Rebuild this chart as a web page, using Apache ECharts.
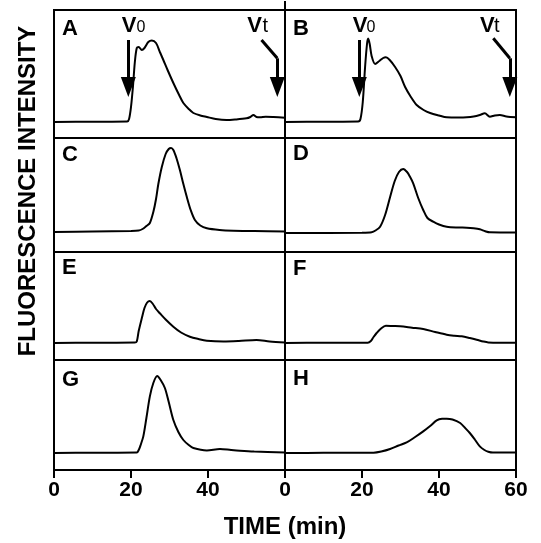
<!DOCTYPE html>
<html>
<head>
<meta charset="utf-8">
<script src="https://cdn.jsdelivr.net/npm/echarts@6/dist/echarts.min.js"></script>
<style>
html,body{margin:0;padding:0;background:#fff;}
#chart{width:541px;height:543px;}
</style>
</head>
<body>
<div id="chart"></div>
<script>
// ---- Data (time in min, fluorescence intensity in arbitrary units above baseline) ----
const panelLetters = ['A','B','C','D','E','F','G','H'];
const xTicks = [0, 20, 40, 60];

const tA = [0,10,19,19.5,20,20.5,21,21.5,22,22.8,23.5,24.5,25.4,26.5,27.5,28.4,29.5,31,32.5,33.6,35,36.2,38,39.7,42,44.8,47,50,51,51.8,52.6,53.5,55,57,60];
const iA = [0,0.3,0.5,3,15,35,60,74,75,72,74,80,81.5,79,70,62,52,39,27,19,13,9,6.5,5,3,2,2.5,3.7,5,7,5,4.7,5.3,5,4.3];

const tB = [0,10,19,19.6,20.2,20.8,21.3,21.6,22.0,22.5,23.4,24.5,25.5,26.2,27.2,28.6,30,31.2,32.7,34.2,36,37.7,40,42,45,47.2,49,50.6,51.9,53.2,54.5,55.8,57.5,60];
const iB = [0,0.3,0.5,3,20,55,78,83.5,78,66,58,61,64,64.7,62,55,46,35,25,17,12,9,6.5,4.7,4.5,4.7,5.5,7,8.7,5.3,6.5,7,5.5,4.7];

const tC = [0,10,20,22,23,24,24.9,25.8,26.5,27.1,28,29,29.8,30.4,31,31.8,32.7,33.6,34.5,35.5,36.6,38,39.7,43,46.6,52,60];
const iC = [0,0.5,1,1.5,3,6,9,20,33,48,65,78,83,84,82,74,62,48,35,22,12,6.5,3.7,2,1.3,1,0.5];

const tD = [0,20,22.5,23.5,24.7,26,27.3,28.5,29.6,30.7,31.7,32.5,33.3,34.6,35.9,37,38.5,40,42,45,47.2,49,50.6,52,53.2,60];
const iD = [0,0.3,0.8,2.5,6.3,18,36,52,61,64,61,56,49.7,35,23,15,11.3,8.5,6.3,5.5,5.3,4.7,3.7,1.8,0.7,0.5];

const tE = [0,10,21,21.5,22,22.8,23.5,24.2,24.9,25.6,26.5,27.5,29,31,33,35.3,37.5,39.7,44,48,52.6,56,60];
const iE = [0,0.3,0.5,1.5,12,24.7,35,40.5,42,39.5,34,29.7,23.5,16.3,10.5,6.3,4,2.3,1.5,2,3,1.5,0.5];

const tF = [0,10,21.5,22.3,23,23.8,24.8,26.2,28,29.9,33,35.9,39,42,44,45.9,48,49.8,51.5,52.8,60];
const iF = [0,0.3,0.3,2,6,10,14,17.3,17,16.7,15.3,14,11,8.3,7.3,6.7,5,3.3,1.5,0.6,0.3];

const tG = [0,10,21.5,22,22.5,23.2,24,24.9,25.8,26.8,27.7,28.8,29.8,31,32.3,33.6,35,36.2,39.7,43.1,46,48.3,52,60];
const iG = [0,0.3,0.5,3,8,16.6,35,56.6,70,77,73,65,51,33,21,13,8,5,2.6,4,3,2.3,1.5,0.5];

const tH = [0,10,23,25,27.3,29.5,31.6,33.8,35.9,37.7,39.4,40.8,42,43.5,45.5,46.8,48,49.3,50.6,51.8,52.8,54,60];
const iH = [0,0.2,0.3,1.5,4,7.5,10.6,16,21.6,27,32.6,34.2,34.3,33.5,30,25,20,13.5,6.6,3,1.3,0.5,0.5];

// Void volume (V0) and total volume (Vt) markers: [time, intensity]
const v0Time = 19.3;
const vtBendA = [[53.9, 82], [58.0, 63.7]];
const vtBendB = [[54.1, 83.7], [58.4, 63.7]];
const arrowTop = 82;
const arrowHeadCenter = 35;

// ---- Layout ----
const L = 54, W = 231, R = 285;
const rows = [
  {top: 10, height: 128, min: [-16, -16], max: [112, 112]},
  {top: 138, height: 114, min: [-20, -19], max: [94, 95]},
  {top: 252, height: 108, min: [-17, -17], max: [91, 91]},
  {top: 360, height: 110, min: [-17, -17], max: [93, 93]}
];
const seriesT = [tA, tB, tC, tD, tE, tF, tG, tH];
const seriesI = [iA, iB, iC, iD, iE, iF, iG, iH];

const FONT = '"Liberation Sans", Arial, Helvetica, sans-serif';

const grids = [], xAxes = [], yAxes = [], series = [];
for (let k = 0; k < 8; k++) {
  const row = rows[Math.floor(k / 2)];
  const col = k % 2;
  const isBottom = k >= 6;
  grids.push({
    left: col === 0 ? L : R, top: row.top, width: W, height: row.height,
    show: true, borderColor: '#000', borderWidth: 2, backgroundColor: 'transparent'
  });
  xAxes.push({
    type: 'value', gridIndex: k, min: 0, max: 60, interval: 20,
    show: isBottom, position: 'bottom',
    axisLine: {show: false, onZero: false},
    axisTick: {show: true, inside: false, length: 8, lineStyle: {color: '#000', width: 2}},
    splitLine: {show: false},
    axisLabel: {
      show: true, color: '#000', fontSize: 21, fontWeight: 'bold', fontFamily: FONT, margin: 10,
      formatter: (v) => (col === 0 && v === 60) ? '' : String(v)
    }
  });
  yAxes.push({
    type: 'value', gridIndex: k, min: row.min[col], max: row.max[col], show: false,
    splitLine: {show: false}
  });
  const data = seriesT[k].map((t, j) => [t, seriesI[k][j]]);
  const s = {
    type: 'line', xAxisIndex: k, yAxisIndex: k, data: data,
    showSymbol: false, symbol: 'none', smooth: 0.3,
    lineStyle: {color: '#000', width: 2},
    silent: true, animation: false
  };
  if (k === 0 || k === 1) {
    const bend = k === 0 ? vtBendA : vtBendB;
    s.markLine = {
      silent: true, animation: false,
      label: {show: false},
      emphasis: {disabled: true},
      lineStyle: {color: '#000', width: 3, type: 'solid'},
      data: [
        [{coord: [v0Time, arrowTop], symbol: 'none'}, {coord: [v0Time, arrowHeadCenter], symbol: 'triangle', symbolSize: [15, 20]}],
        [{coord: bend[0], symbol: 'none'}, {coord: bend[1], symbol: 'none'}],
        [{coord: bend[1], symbol: 'none'}, {coord: [bend[1][0], arrowHeadCenter], symbol: 'triangle', symbolSize: [15, 20]}]
      ]
    };
  }
  series.push(s);
}

// ---- Text ----
const graphics = [];
const letterPos = [[62, 28.5], [293, 28.5], [62, 155], [293, 154], [62, 268], [293, 268.5], [62, 380], [293, 379]];
panelLetters.forEach((ch, k) => {
  graphics.push({type: 'text', x: letterPos[k][0], y: letterPos[k][1], silent: true,
    style: {text: ch, fill: '#000', font: 'bold 22px ' + FONT, textAlign: 'left', textVerticalAlign: 'middle'}});
});
function vLabel(xV, xSub, sub, subSize) {
  graphics.push({type: 'text', x: xV, y: 25.6, silent: true,
    style: {text: 'V', fill: '#000', font: 'bold 22px ' + FONT, textAlign: 'left', textVerticalAlign: 'middle'}});
  graphics.push({type: 'text', x: xSub, y: 33.3 - 0.35 * subSize, silent: true,
    style: {text: sub, fill: '#000', font: subSize + 'px ' + FONT, textAlign: 'left', textVerticalAlign: 'middle'}});
}
vLabel(121.7, 136.5, '0', 16);
vLabel(247.3, 262.5, 't', 20);
vLabel(352.7, 366.5, '0', 16);
vLabel(480, 494, 't', 20);

graphics.push({type: 'line', silent: true, shape: {x1: 285, y1: 1, x2: 285, y2: 10}, style: {stroke: '#000', lineWidth: 2}});
graphics.push({type: 'text', x: 28, y: 191, rotation: Math.PI / 2, silent: true,
  style: {text: 'FLUORESCENCE INTENSITY', fill: '#000', font: 'bold 24px ' + FONT, textAlign: 'center', textVerticalAlign: 'middle'}});
graphics.push({type: 'text', x: 285, y: 527, silent: true,
  style: {text: 'TIME (min)', fill: '#000', font: 'bold 24px ' + FONT, textAlign: 'center', textVerticalAlign: 'middle'}});

const chart = echarts.init(document.getElementById('chart'), null, {renderer: 'canvas'});
chart.setOption({
  animation: false,
  backgroundColor: '#fff',
  grid: grids, xAxis: xAxes, yAxis: yAxes, series: series,
  graphic: graphics
});
</script>
</body>
</html>
